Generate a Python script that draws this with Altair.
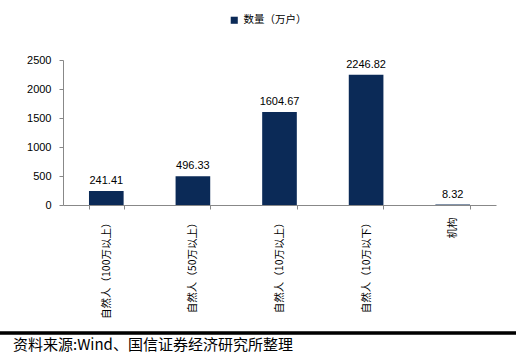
import altair as alt
import pandas as pd

categories = ["自然人（100万以上）", "自然人（50万以上）", "自然人（10万以上）", "自然人（10万以下）", "机构"]
values = [241.41, 496.33, 1604.67, 2246.82, 8.32]
series_name = "数量（万户）"
y_ticks = [0, 500, 1000, 1500, 2000, 2500]
source_note = "资料来源:Wind、国信证券经济研究所整理"

df = pd.DataFrame({"cat": categories, "val": values, "series": series_name,
                   "lab": [f"{v:.2f}" for v in values]})

W, H = 433, 145
NAVY = "#0B2A57"
FONT = "Liberation Sans"

x_axis = alt.Axis(labelAngle=270, labelFontSize=10.5, labelFont="Noto Sans CJK SC",
                  labelColor="#000", labelPadding=8, tickBand="extent",
                  tickSize=4, tickColor="#888", domainColor="#888",
                  labelLimit=200)
y_axis = alt.Axis(values=y_ticks, format="d", labelOverlap=False, grid=False,
                  tickCount=6, labelFontSize=11, labelFont=FONT,
                  labelColor="#000", tickSize=4, tickColor="#888",
                  domainColor="#888", labelPadding=8)
x_scale = alt.Scale(paddingInner=0.6, paddingOuter=0.3)
y_scale = alt.Scale(domain=[0, 2500], nice=False)

base = alt.Chart(df)

bars = base.mark_bar(color=NAVY).encode(
    x=alt.X("cat:N", sort=categories, title=None, scale=x_scale, axis=x_axis),
    y=alt.Y("val:Q", title=None, scale=y_scale, axis=y_axis),
    fill=alt.Fill("series:N", scale=alt.Scale(range=[NAVY]),
                  legend=alt.Legend(title=None, orient="none", legendX=166, legendY=-45,
                                    symbolType="square", symbolSize=50,
                                    labelFont="Noto Sans CJK SC", labelFontSize=10.5,
                                    labelColor="#000", symbolStrokeWidth=0)),
)

texts = base.mark_text(dy=-10, fontSize=11, font=FONT, color="#000").encode(
    x=alt.X("cat:N", sort=categories, title=None, scale=x_scale, axis=x_axis),
    y=alt.Y("val:Q", title=None, scale=y_scale, axis=y_axis),
    text="lab:N",
)

rule = alt.Chart(df).mark_rule(color="#000", strokeWidth=2.5).encode(
    x=alt.value(-63), x2=alt.value(453), y=alt.value(273)
)

note = alt.Chart(pd.DataFrame({"t": [source_note]})).mark_text(
    align="left", baseline="alphabetic", fontSize=15, font="Noto Sans CJK SC", color="#000"
).encode(x=alt.value(-50), y=alt.value(290), text="t:N")

chart = alt.layer(bars, texts, rule, note).properties(
    width=W, height=H,
    background="white",
    autosize=alt.AutoSizeParams(type="none"),
    padding={"left": 63, "top": 60, "right": 27, "bottom": 152},
).configure_view(strokeWidth=0, stroke=None)

chart.save("out.html", embed_options={"renderer": "svg", "actions": False})
